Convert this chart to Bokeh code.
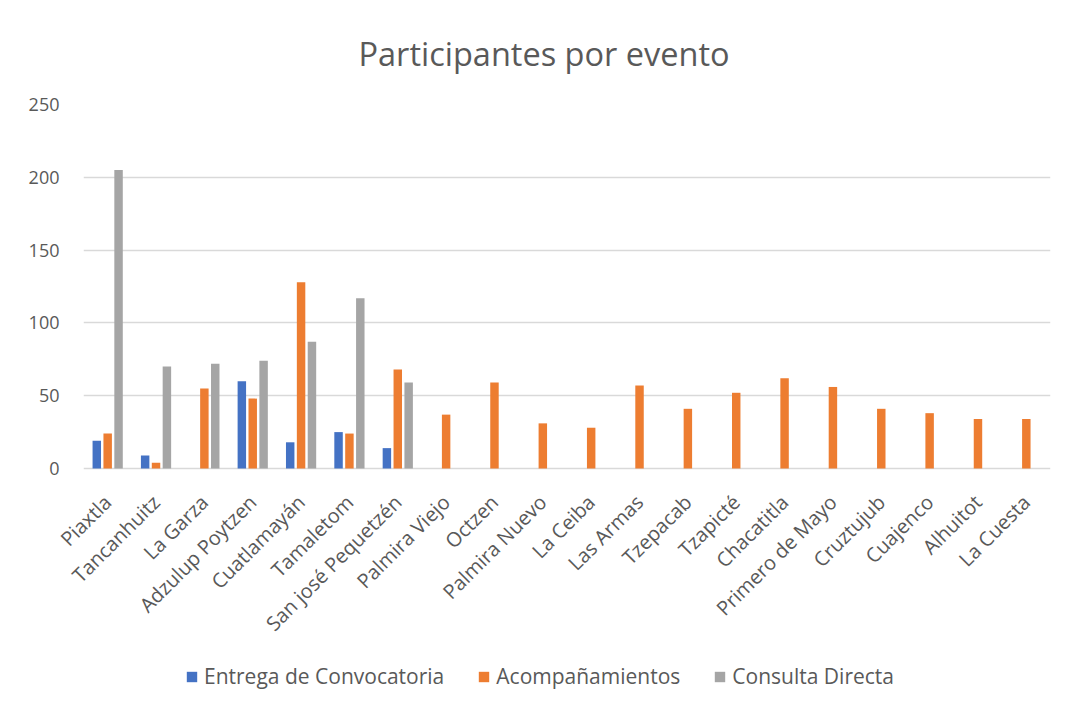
from bokeh.plotting import figure
from bokeh.models import ColumnDataSource, FactorRange, Range1d, Legend, LegendItem, Title
from bokeh.core.properties import value
from bokeh.transform import dodge
from bokeh.embed import file_html
from bokeh.resources import INLINE
import math

categories = ["Piaxtla", "Tancanhuitz", "La Garza", "Adzulup Poytzen", "Cuatlamayán",
              "Tamaletom", "San josé Pequetzén", "Palmira Viejo", "Octzen", "Palmira Nuevo",
              "La Ceiba", "Las Armas", "Tzepacab", "Tzapicté", "Chacatitla",
              "Primero de Mayo", "Cruztujub", "Cuajenco", "Alhuitot", "La Cuesta"]
entrega = [19, 9, 0, 60, 18, 25, 14, 0, 0, 0, 0, 0, 0, 0, 0, 0, 0, 0, 0, 0]
acompanamientos = [24, 4, 55, 48, 128, 24, 68, 37, 59, 31, 28, 57, 41, 52, 62, 56, 41, 38, 34, 34]
consulta = [205, 70, 72, 74, 87, 117, 59, 0, 0, 0, 0, 0, 0, 0, 0, 0, 0, 0, 0, 0]
series_names = ["Entrega de Convocatoria", "Acompañamientos", "Consulta Directa"]
y_ticks = [0, 50, 100, 150, 200, 250]

FONT = "Open Sans"
TXT = "#595959"
GRID = "#d9d9d9"
colors = ["#4472C4", "#ED7D31", "#A5A5A5"]

# layout: plot area for 0..250 is 364px tall; the frame continues below 0
# to hold the rotated category labels and the legend
VAL_H = 364
FRAME_H = 603
y_max = y_ticks[-1]
y_min = -y_max * (FRAME_H - VAL_H) / VAL_H

src = ColumnDataSource(dict(cat=categories, e=entrega, a=acompanamientos, c=consulta,
                            base=[0] * len(categories)))

p = figure(frame_width=967, frame_height=FRAME_H, output_backend="svg", toolbar_location=None,
           x_range=FactorRange(*categories, range_padding=0), y_range=Range1d(y_min, y_max),
           x_axis_location=None,
           min_border_left=83, min_border_right=10, min_border_top=104, min_border_bottom=0)
p.outline_line_color = None
p.background_fill_color = "white"
p.border_fill_color = "white"

p.title = Title(text="Participantes por evento", align="left", text_font=FONT,
                text_font_size="32.5px", text_font_style="normal", text_color=TXT,
                standoff=57, offset=275)

w = 0.175
off = 0.225
r1 = p.vbar(x=dodge("cat", -off, range=p.x_range), top="e", width=w, source=src, fill_color=colors[0], line_color=None)
r2 = p.vbar(x=dodge("cat", 0, range=p.x_range), top="a", width=w, source=src, fill_color=colors[1], line_color=None)
r3 = p.vbar(x=dodge("cat", off, range=p.x_range), top="c", width=w, source=src, fill_color=colors[2], line_color=None)

# category labels, rotated 45 degrees, hanging below the zero line
p.text(x="cat", y="base", text="cat", source=src, angle=math.pi / 4,
       text_align="right", text_baseline="middle", x_offset=0, y_offset=30,
       text_font=value(FONT), text_font_size="20px", text_color=TXT, level="annotation")

p.yaxis.ticker = y_ticks
p.yaxis.axis_line_color = None
p.yaxis.major_tick_line_color = None
p.yaxis.minor_tick_line_color = None
p.yaxis.major_label_text_font = FONT
p.yaxis.major_label_text_font_size = "18px"
p.yaxis.major_label_text_color = TXT
p.yaxis.major_label_standoff = 18

p.xgrid.grid_line_color = None
p.ygrid.ticker = y_ticks
p.ygrid.grid_line_color = GRID
p.ygrid.grid_line_width = 1.5

legend = Legend(items=[LegendItem(label=series_names[0], renderers=[r1]),
                       LegendItem(label=series_names[1], renderers=[r2]),
                       LegendItem(label=series_names[2], renderers=[r3])],
                orientation="horizontal", location=(102, 17),
                label_text_font=FONT, label_text_font_size="21px", label_text_color=TXT,
                glyph_width=13, glyph_height=13, spacing=33, label_standoff=6,
                border_line_color=None, background_fill_alpha=0, padding=0, margin=0)
p.add_layout(legend, "center")

open("out.html", "w").write(file_html(p, INLINE))
